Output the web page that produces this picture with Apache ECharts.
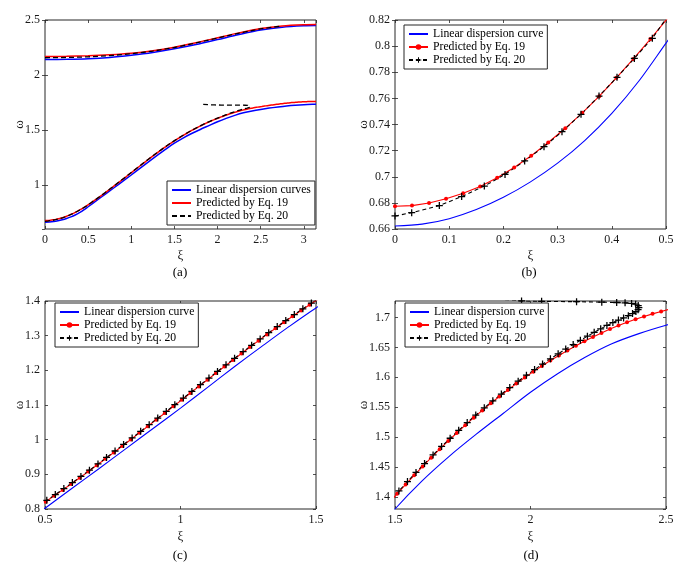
<!DOCTYPE html>
<html>
<head>
<meta charset="utf-8">
<script src="https://cdn.jsdelivr.net/npm/echarts@6/dist/echarts.min.js"></script>
<style>
html, body { margin: 0; padding: 0; background: #fff; }
#main { width: 700px; height: 563px; }
</style>
</head>
<body>
<div id="main"></div>
<script>
var FONT = '"Liberation Serif", "Times New Roman", serif';

// linear dispersion curve (blue), lower branch
var linXi = [0, 0.05, 0.1, 0.15, 0.2, 0.25, 0.3, 0.35, 0.4, 0.45, 0.5, 0.6, 0.7, 0.8, 0.9, 1.0,
  1.1, 1.2, 1.3, 1.4, 1.5, 1.6, 1.7, 1.8, 1.9, 2.0, 2.1, 2.2, 2.3, 2.4, 2.5, 2.6, 2.7, 2.8,
  2.9, 3.0, 3.1, 3.1416];
var linLower = [0.6623, 0.6637, 0.6679, 0.6749, 0.6843, 0.6961, 0.7104, 0.7277, 0.7485, 0.7733,
  0.8023, 0.860, 0.917, 0.975, 1.033, 1.091, 1.151, 1.211, 1.269, 1.326, 1.380, 1.427, 1.468,
  1.505, 1.540, 1.575, 1.606, 1.633, 1.656, 1.673, 1.687, 1.699, 1.709, 1.718, 1.725, 1.730,
  1.733, 1.7335];

// upper branches, panel (a)
var upperXi = [0, 0.25, 0.5, 0.75, 1, 1.25, 1.5, 1.75, 2, 2.25, 2.5, 2.75, 3, 3.1416];
var linUpper = [2.141, 2.143, 2.148, 2.160, 2.180, 2.205, 2.238, 2.277, 2.322, 2.368, 2.409,
  2.435, 2.447, 2.449];
var eq19Upper = [2.168, 2.170, 2.175, 2.184, 2.198, 2.221, 2.253, 2.293, 2.338, 2.383, 2.422,
  2.446, 2.457, 2.459];
var eq20UpperXi = [0, 0.25, 0.5, 0.75, 1, 1.25, 1.5, 1.75, 2, 2.25, 2.5, 2.72];
var eq20Upper = [2.157, 2.159, 2.165, 2.176, 2.193, 2.217, 2.250, 2.291, 2.336, 2.381, 2.420, 2.443];

// Eq. 19 (red), lower branch, one point per marker
var eq19Xi = [0, 0.0314, 0.0628, 0.0942, 0.1257, 0.1571, 0.1885, 0.2199, 0.2513, 0.2827,
  0.3142, 0.3456, 0.3770, 0.4084, 0.4398, 0.4712, 0.5027, 0.5341, 0.5655, 0.5969,
  0.6283, 0.6597, 0.6912, 0.7226, 0.7540, 0.7854, 0.8168, 0.8482, 0.8796, 0.9111,
  0.9425, 0.9739, 1.0053, 1.0367, 1.0681, 1.0996, 1.1310, 1.1624, 1.1938, 1.2252,
  1.2566, 1.2881, 1.3195, 1.3509, 1.3823, 1.4137, 1.4451, 1.4765, 1.5080, 1.5394,
  1.5708, 1.6022, 1.6336, 1.6650, 1.6965, 1.7279, 1.7593, 1.7907, 1.8221, 1.8535,
  1.8850, 1.9164, 1.9478, 1.9792, 2.0106, 2.0420, 2.0735, 2.1049, 2.1363, 2.1677,
  2.1991, 2.2305, 2.2619, 2.2934, 2.3248, 2.3562, 2.3876, 2.4190, 2.4504, 2.4819,
  2.5133, 2.5447, 2.5761, 2.6075, 2.6389, 2.6704, 2.7018, 2.7332, 2.7646, 2.7960,
  2.8274, 2.8588, 2.8903, 2.9217, 2.9531, 2.9845, 3.0159, 3.0473, 3.0788, 3.1102,
  3.1416];
var eq19Lower = [0.6774, 0.6779, 0.6799, 0.6832, 0.6874, 0.6926, 0.6992, 0.7071, 0.7161, 0.7262,
  0.7371, 0.7489, 0.7617, 0.7757, 0.7902, 0.8054, 0.8212, 0.8381, 0.8551, 0.8722,
  0.8900, 0.9079, 0.9262, 0.9446, 0.9631, 0.9819, 1.0006, 1.0196, 1.0387, 1.0578,
  1.0769, 1.0962, 1.1153, 1.1346, 1.1537, 1.1730, 1.1921, 1.2110, 1.2299, 1.2487,
  1.2673, 1.2856, 1.3037, 1.3214, 1.3388, 1.3559, 1.3728, 1.3891, 1.4053, 1.4210,
  1.4363, 1.4512, 1.4658, 1.4799, 1.4937, 1.5070, 1.5200, 1.5326, 1.5447, 1.5565,
  1.5679, 1.5789, 1.5895, 1.5997, 1.6095, 1.6189, 1.6280, 1.6365, 1.6448, 1.6527,
  1.6603, 1.6675, 1.6742, 1.6806, 1.6864, 1.6919, 1.6971, 1.7016, 1.7060, 1.7099,
  1.7137, 1.7175, 1.7212, 1.7248, 1.7283, 1.7317, 1.7350, 1.7381, 1.7411, 1.7439,
  1.7465, 1.7489, 1.7511, 1.7530, 1.7547, 1.7561, 1.7573, 1.7582, 1.7588, 1.7591,
  1.7592];

// Eq. 20 (black dashed), lower branch incl. the fold back near xi = 2.4
var eq20Xi = [0, 0.0308, 0.0818, 0.1230, 0.1648, 0.2030, 0.2392, 0.2749, 0.3081, 0.3432,
  0.3764, 0.4096, 0.4416, 0.4748,
  0.5066, 0.5380, 0.5695, 0.6010, 0.6325, 0.6640, 0.6955, 0.7270, 0.7585, 0.7900,
  0.8215, 0.8530, 0.8845, 0.9160, 0.9475, 0.9790, 1.0105, 1.0420, 1.0735, 1.1050,
  1.1365, 1.1680, 1.1995, 1.2310, 1.2625, 1.2940, 1.3255, 1.3570, 1.3885, 1.4200,
  1.4515, 1.4830,
  1.5145, 1.5460, 1.5775, 1.6090, 1.6405, 1.6720, 1.7035, 1.7350, 1.7665, 1.7980,
  1.8295, 1.8610, 1.8925, 1.9235, 1.9545, 1.9850, 2.0150, 2.0445, 2.0735, 2.1020,
  2.1300, 2.1575, 2.1840, 2.2100, 2.2350, 2.2590, 2.2820, 2.3040, 2.3245, 2.3435,
  2.3610, 2.3765, 2.3890, 2.3970, 2.4000, 2.3975, 2.3880, 2.3730, 2.3490, 2.3180,
  2.2630, 2.1700, 2.0410, 1.9670, 1.9000, 1.8340];
var eq20Lower = [0.6700, 0.6725, 0.6779, 0.6848, 0.6929, 0.7018, 0.7121, 0.7230, 0.7345, 0.7478,
  0.7618, 0.7761, 0.7906, 0.8060,
  0.8249, 0.8417, 0.8589, 0.8761, 0.8938, 0.9119, 0.9301, 0.9486, 0.9673, 0.9861,
  1.0049, 1.0240, 1.0431, 1.0623, 1.0815, 1.1008, 1.1200, 1.1393, 1.1585, 1.1778,
  1.1969, 1.2159, 1.2348, 1.2537, 1.2722, 1.2905, 1.3086, 1.3263, 1.3436, 1.3608,
  1.3776, 1.3940,
  1.4101, 1.4258, 1.4410, 1.4559, 1.4704, 1.4845, 1.4982, 1.5115, 1.5244, 1.5369,
  1.5490, 1.5608, 1.5721, 1.5828, 1.5935, 1.6036, 1.6130, 1.6221, 1.6310, 1.6392,
  1.6472, 1.6548, 1.6618, 1.6688, 1.6752, 1.6811, 1.6866, 1.6914, 1.6956, 1.6993,
  1.7030, 1.7065, 1.7098, 1.7130, 1.7165, 1.7198, 1.7222, 1.7234, 1.7244, 1.7250,
  1.7256, 1.7263, 1.7270, 1.7276, 1.7300, 1.7330];

var namesA = ['Linear dispersion curves', 'Predicted by Eq. 19 ', 'Predicted by Eq. 20 '];
var namesB = ['Linear dispersion curve', 'Predicted by Eq. 19', 'Predicted by Eq. 20'];

function zip(xs, ys) {
  return xs.map(function (x, i) { return [x, ys[i]]; });
}

var PLUS = 'path://M4.1,0H5.9V4.1H10V5.9H5.9V10H4.1V5.9H0V4.1H4.1Z';

function axisPair(dim, g, scale, name, gap, showMin, showMax) {
  var tick = { inside: true, length: 3, lineStyle: { color: '#262626', width: 0.8 } };
  var main = Object.assign({
    gridIndex: g, type: 'value', position: dim === 'x' ? 'bottom' : 'left',
    axisLine: { show: false }, splitLine: { show: false }, axisTick: tick,
    axisLabel: { fontFamily: FONT, fontSize: 12, color: '#1a1a1a', margin: 5,
      showMinLabel: showMin, showMaxLabel: showMax },
    name: name, nameLocation: 'middle', nameGap: gap, nameMoveOverlap: false,
    nameTextStyle: { fontFamily: FONT, fontSize: 13, color: '#1a1a1a' }
  }, scale);
  var twin = Object.assign({
    gridIndex: g, type: 'value', position: dim === 'x' ? 'top' : 'right',
    axisLine: { show: false }, splitLine: { show: false }, axisTick: tick,
    axisLabel: { show: false }
  }, scale);
  return [main, twin];
}

var xAxes = [].concat(
  axisPair('x', 0, { min: 0, max: 3.1416, interval: 0.5 }, 'ξ', 20, true, false),
  axisPair('x', 1, { min: 0, max: 0.5, interval: 0.1 }, 'ξ', 20, true, true),
  axisPair('x', 2, { min: 0.5, max: 1.5, interval: 0.5 }, 'ξ', 21, true, true),
  axisPair('x', 3, { min: 1.5, max: 2.5, interval: 0.5 }, 'ξ', 21, true, true)
);
var yAxes = [].concat(
  axisPair('y', 0, { min: 0.6, max: 2.5, splitNumber: 4 }, 'ω', 19, false, true),
  axisPair('y', 1, { min: 0.66, max: 0.82, interval: 0.02 }, 'ω', 25, true, true),
  axisPair('y', 2, { min: 0.8, max: 1.4, interval: 0.1 }, 'ω', 19, true, true),
  axisPair('y', 3, { min: 1.38, max: 1.7275, splitNumber: 7 }, 'ω', 25, false, false)
);

function plain(name, g, data, color, width, dashed) {
  return {
    type: 'line', name: name, xAxisIndex: 2 * g, yAxisIndex: 2 * g, data: data,
    symbol: 'none', smooth: dashed ? false : 0.3, clip: true,
    lineStyle: { color: color, width: width, type: dashed ? [5, 3] : 'solid' },
    itemStyle: { color: color }
  };
}

var series = [
  plain(namesA[0], 0, zip(linXi, linLower), '#0000ff', 1.5, false),
  plain(namesA[0], 0, zip(upperXi, linUpper), '#0000ff', 1.5, false),
  plain(namesA[1], 0, zip(eq19Xi, eq19Lower), '#ff0000', 1.5, false),
  plain(namesA[1], 0, zip(upperXi, eq19Upper), '#ff0000', 1.5, false),
  plain(namesA[2], 0, zip(eq20Xi, eq20Lower), '#000000', 1.3, true),
  plain(namesA[2], 0, zip(eq20UpperXi, eq20Upper), '#000000', 1.3, true)
];

[1, 2, 3].forEach(function (g) {
  series.push(plain(namesB[0], g, zip(linXi, linLower), '#0000ff', 1.1, false));
  series.push({
    type: 'line', name: namesB[1], xAxisIndex: 2 * g, yAxisIndex: 2 * g,
    data: zip(eq19Xi, eq19Lower), symbol: 'circle', symbolSize: 4, clip: true,
    lineStyle: { color: '#ff0000', width: 1.1 }, itemStyle: { color: '#ff0000' }
  });
  series.push({
    type: 'line', name: namesB[2], xAxisIndex: 2 * g, yAxisIndex: 2 * g,
    data: zip(eq20Xi, eq20Lower), symbol: PLUS, symbolSize: 7, clip: true,
    lineStyle: { color: '#000000', width: 1.1, type: [4, 3] }, itemStyle: { color: '#000000' }
  });
});

// legend entries: names whose series draw no markers get a hidden icon symbol
function legendAt(left, top, names, noMarker) {
  return {
    left: left, top: top, orient: 'vertical', selectedMode: false,
    data: names.map(function (n, i) {
      return noMarker[i] ? { name: n, itemStyle: { opacity: 0 } } : { name: n };
    }),
    borderColor: '#262626', borderWidth: 1, backgroundColor: '#fff', borderRadius: 0,
    padding: [3, 4, 3, 4], itemGap: 1, itemWidth: 19, itemHeight: 7,
    textStyle: { fontFamily: FONT, fontSize: 11.7, color: '#000' }
  };
}

function grid(left, top, h) {
  return { left: left, top: top, width: 271, height: h, show: true,
    borderColor: '#262626', borderWidth: 1, backgroundColor: 'transparent', containLabel: false };
}

function caption(text, x, y) {
  return { type: 'text', x: x, y: y,
    style: { text: text, font: '13px "Liberation Serif", serif', textAlign: 'center', fill: '#000' } };
}

var chart = echarts.init(document.getElementById('main'));
chart.setOption({
  animation: false,
  backgroundColor: '#fff',
  grid: [grid(45, 20, 209), grid(395, 20, 209), grid(45, 301, 208), grid(395, 301, 208)],
  xAxis: xAxes,
  yAxis: yAxes,
  legend: [legendAt(167, 181, namesA, [true, true, true]),
    legendAt(404, 25, namesB, [true, false, false]),
    legendAt(55, 303, namesB, [true, false, false]),
    legendAt(405, 303, namesB, [true, false, false])],
  graphic: [caption('(a)', 180, 266), caption('(b)', 529, 266),
    caption('(c)', 180, 549), caption('(d)', 531, 549)],
  series: series
});
</script>
</body>
</html>
